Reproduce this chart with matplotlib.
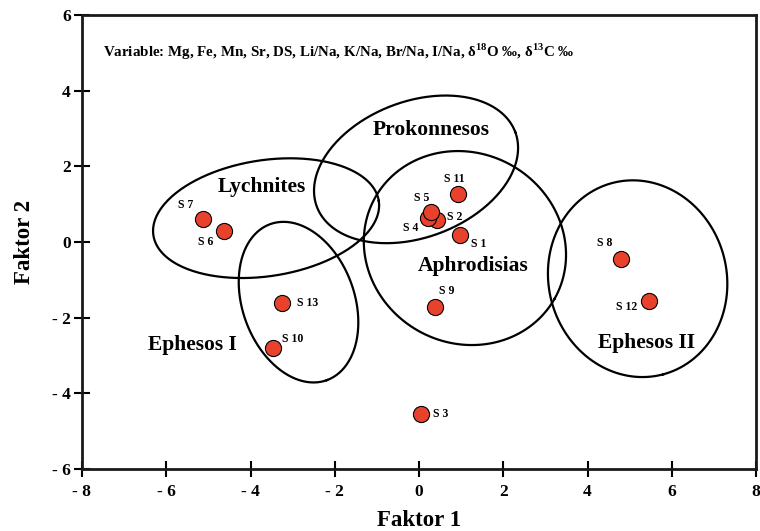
import numpy as np
import matplotlib
matplotlib.use("Agg")
import matplotlib.pyplot as plt

plt.rcParams["font.family"] = ["Liberation Serif", "DejaVu Serif"]
plt.rcParams["mathtext.fontset"] = "custom"
plt.rcParams["mathtext.rm"] = "Liberation Serif"
plt.rcParams["mathtext.bf"] = "Liberation Serif:bold"

# Sample scores (Faktor 1, Faktor 2)
samples = ["S 1", "S 2", "S 3", "S 4", "S 5", "S 6", "S 7",
           "S 8", "S 9", "S 10", "S 11", "S 12", "S 13"]
faktor1 = [0.97, 0.43, 0.05, 0.21, 0.28, -4.63, -5.13,
           4.80, 0.38, -3.47, 0.93, 5.46, -3.25]
faktor2 = [0.18, 0.58, -4.55, 0.63, 0.79, 0.29, 0.61,
           -0.45, -1.72, -2.80, 1.27, -1.56, -1.61]

# label offsets in pixels (dx, dy)
label_off = [(19, -9), (18, 3), (20, 0), (-17, -10), (-9, 14), (-18, -11), (-17, 14),
             (-17, 16), (12, 16), (20, 9), (-4, 15), (-22, -6), (26, 0)]

# groups: name, ellipse centre (data), semi-axes (px), angle (deg), label position (data)
groups = ["Lychnites", "Prokonnesos", "Aphrodisias", "Ephesos II", "Ephesos I"]
centres = [(-3.63, 0.63), (-0.07, 1.92), (1.09, -0.16), (5.19, -0.97), (-2.86, -1.59)]
semi_axes = [(114, 58), (106, 68), (103, 95), (99, 89), (83, 56)]
angles = [8.7, 20.7, -29.5, -75, -70]
label_pos = [(-3.73, 1.45), (0.29, 2.95), (1.28, -0.63), (5.39, -2.68), (-5.37, -2.73)]

xticks = [-8, -6, -4, -2, 0, 2, 4, 6, 8]
yticks = [-6, -4, -2, 0, 2, 4, 6]

fig = plt.figure(figsize=(7.6, 5.31), dpi=100)
ax = fig.add_axes([82 / 760, 62 / 531, 674 / 760, 454 / 531])
ax.set_xlim(-8, 8)
ax.set_ylim(-6, 6)

# ellipses drawn in screen space
t = np.linspace(0, 2 * np.pi, 300)
inv = ax.transData.inverted()
for c, (a, b), ang in zip(centres, semi_axes, angles):
    cx, cy = ax.transData.transform(c)
    th = np.radians(ang)
    u = a * np.cos(t)
    v = b * np.sin(t)
    px = cx + u * np.cos(th) - v * np.sin(th)
    py = cy + u * np.sin(th) + v * np.cos(th)
    pts = inv.transform(np.column_stack([px, py]))
    ax.plot(pts[:, 0], pts[:, 1], color="black", lw=1.6, zorder=2)

for name, (lx, ly) in zip(groups, label_pos):
    ax.text(lx, ly, name, fontsize=15.5, fontweight="bold",
            ha="center", va="center", zorder=3)

ax.scatter(faktor1, faktor2, s=135, color="#e8412c", edgecolor="black",
           linewidth=0.8, zorder=4)

for name, x, y, (dx, dy) in zip(samples, faktor1, faktor2, label_off):
    ax.annotate(name, (x, y), xytext=(dx, dy), textcoords="offset pixels",
                fontsize=8.5, fontweight="bold", ha="center", va="center", zorder=5)

ax.text(0.031, 0.918,
        r"Variable: Mg, Fe, Mn, Sr, DS, Li/Na, K/Na, Br/Na, I/Na, δ$^{\mathbf{18}}$O ‰, δ$^{\mathbf{13}}$C ‰",
        transform=ax.transAxes, fontsize=10.8, fontweight="bold", ha="left", va="center")

ax.set_xticks(xticks)
ax.set_yticks(yticks)
ax.set_xticklabels([("- %d" % -v) if v < 0 else str(v) for v in xticks])
ax.set_yticklabels([("- %d" % -v) if v < 0 else str(v) for v in yticks])
for lab in ax.get_xticklabels() + ax.get_yticklabels():
    lab.set_fontweight("bold")
ax.tick_params(axis="both", direction="inout", length=12, width=1.5,
               labelsize=12.5, color="black")
ax.tick_params(axis="x", pad=5)
ax.tick_params(axis="y", pad=2)

for side in ["left", "bottom", "right", "top"]:
    ax.spines[side].set_linewidth(2)
    ax.spines[side].set_color("#1a1a1a")

ax.set_xlabel("Faktor 1", fontsize=16.5, fontweight="bold", labelpad=7)
ax.set_ylabel("Faktor 2", fontsize=16.5, fontweight="bold", labelpad=12)

fig.savefig("out.png", dpi=100)
